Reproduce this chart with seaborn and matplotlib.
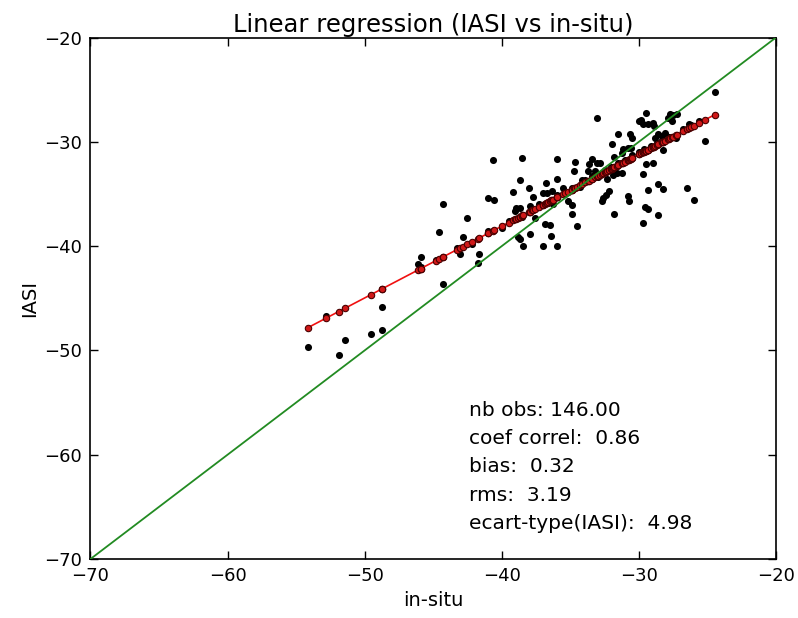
import numpy as np
import pandas as pd
import matplotlib
matplotlib.use("Agg")
import matplotlib.pyplot as plt
import seaborn as sns

# ---- data ----
insitu = [
    -54.16, -51.90, -51.46, -49.56, -48.76, -48.76, -52.85, -46.13, -45.91, -44.31,
    -44.60, -42.85, -43.07, -41.68, -41.75, -44.31, -42.55, -41.02, -40.58, -40.66,
    -38.54, -35.99, -34.67, -34.74, -38.69, -36.79, -35.99, -38.03, -39.20, -37.01,
    -36.72, -36.35, -35.55, -37.74, -38.98, -38.69, -39.05, -37.96, -35.18, -34.89,
    -34.89, -37.59, -36.86, -36.50, -34.53, -37.96, -36.42, -38.83, -38.69, -38.47,
    -37.01, -35.99, -33.07, -31.53, -31.97, -33.43, -33.65, -33.07, -32.85, -33.72,
    -33.21, -31.82, -32.63, -32.41, -32.19, -32.70, -32.34, -31.61, -31.24, -31.90,
    -30.00, -30.66, -30.51, -31.17, -31.24, -30.58, -30.80, -30.73, -29.49, -27.74,
    -27.52, -27.23, -27.88, -27.59, -29.85, -29.71, -29.34, -28.98, -28.91, -28.10,
    -28.32, -28.61, -28.83, -25.18, -28.25, -29.49, -28.98, -29.71, -28.61, -28.25,
    -26.50, -29.34, -25.99, -29.56, -29.34, -28.61, -29.71, -24.45, -26.35, -34.16,
    -45.90, -43.30, -42.20, -41.00, -40.00, -39.50, -38.50, -37.80, -37.30, -36.60,
    -36.00, -35.40, -34.90, -34.30, -33.90, -33.40, -33.00, -32.50, -32.00, -31.50,
    -31.00, -30.50, -30.00, -29.60, -29.10, -28.70, -28.30, -27.80, -27.30, -26.80,
    -26.20, -25.60, -36.30, -31.80, -30.80, -44.80,
]
iasi = [
    -49.65, -50.42, -48.98, -48.41, -48.02, -45.82, -46.68, -41.69, -41.02, -43.61,
    -38.62, -39.10, -40.73, -40.73, -41.59, -35.93, -37.27, -35.36, -35.55, -31.71,
    -31.52, -31.61, -31.90, -32.76, -33.63, -33.92, -33.53, -34.40, -34.78, -34.88,
    -34.88, -34.68, -34.40, -35.26, -36.31, -36.31, -36.60, -36.12, -35.64, -36.03,
    -36.89, -37.27, -37.85, -37.95, -38.04, -38.81, -39.00, -39.10, -39.29, -39.96,
    -39.96, -39.96, -27.68, -29.21, -30.17, -31.61, -32.09, -32.00, -32.00, -32.76,
    -32.76, -36.89, -35.36, -35.07, -34.68, -35.64, -33.53, -32.96, -32.96, -33.15,
    -27.97, -29.21, -29.60, -30.65, -31.04, -30.56, -35.16, -35.64, -27.20, -27.29,
    -27.39, -27.29, -27.68, -27.97, -27.87, -28.25, -28.25, -28.16, -28.45, -29.12,
    -29.40, -29.21, -29.60, -29.88, -30.75, -32.09, -32.00, -33.05, -34.01, -34.49,
    -34.40, -34.59, -35.55, -36.22, -36.41, -36.99, -37.75, -25.18, -28.25, -33.63,
    -42.00, -40.20, -39.80, -38.60, -38.30, -37.60, -37.20, -36.40, -36.00, -35.90,
    -35.10, -35.00, -34.40, -34.30, -33.70, -33.30, -33.40, -32.70, -32.40, -32.00,
    -31.70, -31.30, -31.00, -30.70, -30.40, -30.10, -29.80, -29.50, -29.60, -28.80,
    -28.40, -28.00, -36.00, -31.50, -30.60, -41.30,
]
reg_slope = 0.688
reg_intercept = -10.57
diag_line = [-70, -20]
axis_ticks = [-70, -60, -50, -40, -30, -20]
stats_lines = [
    "nb obs: 146.00",
    "coef correl:  0.86",
    "bias:  0.32",
    "rms:  3.19",
    "ecart-type(IASI):  4.98",
]
title = "Linear regression (IASI vs in-situ)"
xlabel = "in-situ"
ylabel = "IASI"

# ---- style ----
sns.set_style("white")
plt.rcParams.update({
    "font.family": ["DejaVu Sans"],
    "text.color": "black",
    "axes.labelcolor": "black",
    "axes.titlecolor": "black",
    "axes.edgecolor": "black",
    "axes.linewidth": 1.2,
    "xtick.color": "black",
    "ytick.color": "black",
    "xtick.direction": "in",
    "ytick.direction": "in",
    "xtick.top": True,
    "ytick.right": True,
    "xtick.bottom": True,
    "ytick.left": True,
    "axes.unicode_minus": True,
})

fig = plt.figure(figsize=(7.98, 6.18), dpi=100)
ax = fig.add_axes([0.1134, 0.0955, 0.859, 0.8438])

df = pd.DataFrame({"insitu": insitu, "iasi": iasi})
df["fit"] = reg_slope * df["insitu"] + reg_intercept
df = df.sort_values("insitu").reset_index(drop=True)

sns.scatterplot(data=df, x="insitu", y="iasi", color="black", s=26,
                linewidth=0, ax=ax, zorder=2, legend=False)
sns.lineplot(data=df, x="insitu", y="fit", estimator=None, sort=True,
             color="#f01010", lw=1.2, marker="o", markersize=4.6,
             markerfacecolor="#d01818", markeredgecolor="#4a0000",
             markeredgewidth=0.8, ax=ax, zorder=3)
sns.lineplot(x=diag_line, y=diag_line, color="#228b22", lw=1.3, ax=ax, zorder=4)

ax.set_xlim(-70, -20)
ax.set_ylim(-70, -20)
ax.set_xticks(axis_ticks)
ax.set_yticks(axis_ticks)
ax.tick_params(axis="both", which="major", length=6, width=1.0,
               labelsize=13, pad=6, colors="black")
ax.set_title(title, fontsize=17.5, pad=4, color="black")
ax.set_xlabel(xlabel, fontsize=14, labelpad=4, color="black")
ax.set_ylabel(ylabel, fontsize=14, labelpad=4, color="black")

y0 = -55.8
for i, line in enumerate(stats_lines):
    ax.text(-42.4, y0 - i * 2.69, line, fontsize=14.5, va="center", ha="left",
            color="black")

fig.savefig("out.png", dpi=100)
